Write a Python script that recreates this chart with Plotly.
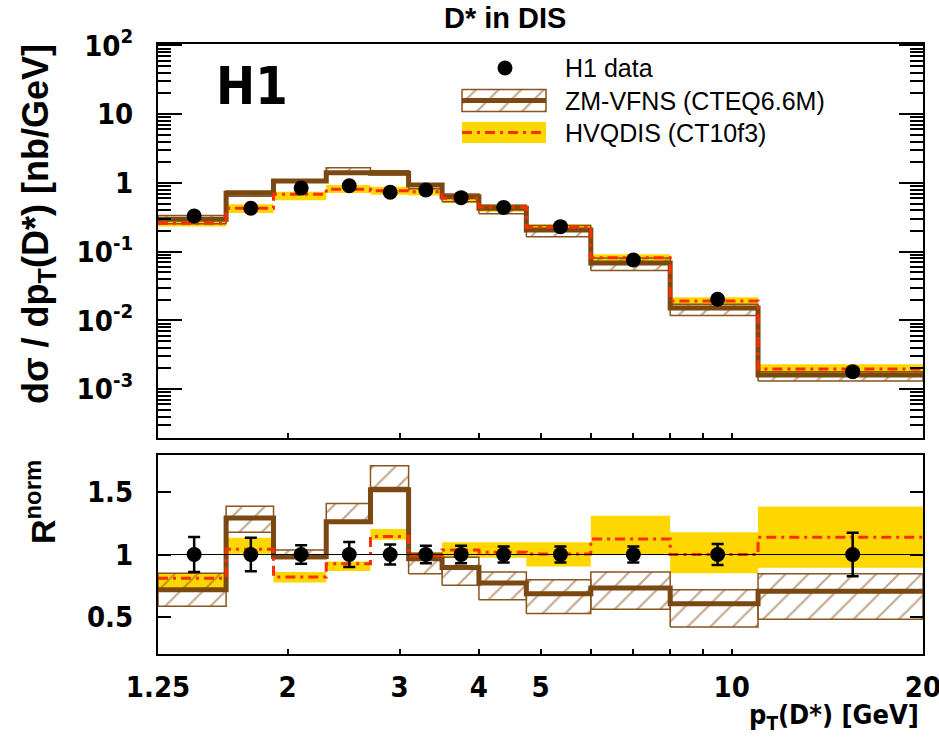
import math
import plotly.graph_objects as go

# ---------------- data ----------------
pt_edges = [1.25, 1.6, 1.9, 2.3, 2.7, 3.1, 3.5, 4.0, 4.75, 6.0, 8.0, 11.0, 20.0]

# measured cross section dsigma/dpT [nb/GeV]
data_xsec = [0.330, 0.428, 0.84, 0.91, 0.73, 0.79, 0.61, 0.44, 0.231, 0.0757, 0.0203, 0.0018]

# ZM-VFNS (CTEQ6.6M) prediction with uncertainty band
zm_xsec = [0.296, 0.706, 1.07, 1.41, 1.38, 0.93, 0.63, 0.427, 0.206, 0.0685, 0.0152, 0.00161]
zm_xsec_lo = [0.255, 0.64, 1.03, 1.38, 1.31, 0.82, 0.53, 0.355, 0.165, 0.053, 0.0118, 0.00131]
zm_xsec_hi = [0.335, 0.76, 1.11, 1.66, 1.50, 0.975, 0.69, 0.475, 0.240, 0.081, 0.0172, 0.0018]

# HVQDIS (CT10f3) prediction with uncertainty band
hv_xsec = [0.259, 0.427, 0.683, 0.807, 0.77, 0.745, 0.597, 0.442, 0.227, 0.0818, 0.0192, 0.00197]
hv_xsec_lo = [0.232, 0.365, 0.56, 0.71, 0.67, 0.655, 0.51, 0.38, 0.193, 0.072, 0.0165, 0.00172]
hv_xsec_hi = [0.289, 0.49, 0.745, 0.93, 0.88, 0.83, 0.665, 0.49, 0.25, 0.092, 0.0217, 0.00231]

# normalised ratios R^norm
r_data = [1.0] * 12
r_data_err = [0.14, 0.135, 0.075, 0.10, 0.08, 0.07, 0.07, 0.065, 0.065, 0.065, 0.085, 0.175]

r_zm = [0.717, 1.293, 0.984, 1.264, 1.52, 0.965, 0.896, 0.771, 0.685, 0.731, 0.605, 0.704]
r_zm_lo = [0.584, 1.179, 0.966, 1.26, 1.538, 0.846, 0.752, 0.637, 0.525, 0.56, 0.418, 0.48]
r_zm_hi = [0.85, 1.387, 1.037, 1.41, 1.714, 1.01, 0.978, 0.859, 0.797, 0.859, 0.717, 0.845]

r_hv = [0.81, 1.043, 0.82, 0.925, 1.144, 0.99, 1.037, 1.019, 1.005, 1.125, 1.0, 1.139]
r_hv_lo = [0.726, 1.006, 0.774, 0.867, 1.118, 0.952, 0.973, 0.973, 0.904, 1.0, 0.85, 0.894]
r_hv_hi = [0.846, 1.134, 0.86, 0.944, 1.205, 1.02, 1.098, 1.098, 1.098, 1.312, 1.178, 1.386]

x_tick_vals = [1.25, 2, 3, 4, 5, 10, 20]
x_tick_text = ["1.25", "2", "3", "4", "5", "10", "20"]
y_tick_vals = [1e-3, 1e-2, 1e-1, 1, 10, 100]
y_tick_text = ["10<sup>-3</sup>", "10<sup>-2</sup>", "10<sup>-1</sup>", "1", "10", "10<sup>2</sup>"]
r_tick_vals = [0.5, 1, 1.5]
r_tick_text = ["0.5", "1", "1.5"]

legend_labels = ["H1 data", "ZM-VFNS (CTEQ6.6M)", "HVQDIS (CT10f3)"]

# ---------------- style ----------------
W, H = 939, 748
FONT = "Liberation Sans"
NARROW = "Liberation Sans Narrow, DejaVu Sans Condensed, Liberation Sans"
BROWN = "#7a4810"
HATCH = "#87551f"
GOLD = "#ffd700"
RED = "#ff2d00"
DASHDOT = "10px,5px,3px,5px"

bin_centres = [(a + b) / 2 for a, b in zip(pt_edges[:-1], pt_edges[1:])]


def boxes(lo, hi):
    xs, ys = [], []
    for i in range(len(lo)):
        a, b = pt_edges[i], pt_edges[i + 1]
        xs += [a, b, b, a, a, None]
        ys += [lo[i], lo[i], hi[i], hi[i], lo[i], None]
    return xs, ys


def step(vals):
    return pt_edges, list(vals) + [vals[-1]]


hatch_pattern = dict(shape="/", fgcolor=HATCH, bgcolor="rgba(0,0,0,0)",
                     size=16, solidity=0.14, fillmode="overlay")

fig = go.Figure()


def add_panel(xa, ya, c_zm, zlo, zhi, c_hv, hlo, hhi):
    bx, by = boxes(hlo, hhi)
    fig.add_trace(go.Scatter(x=bx, y=by, mode="lines", fill="toself", fillcolor=GOLD,
                             line=dict(width=0), xaxis=xa, yaxis=ya, hoverinfo="skip"))
    hx, hy = boxes(zlo, zhi)
    fig.add_trace(go.Scatter(x=hx, y=hy, mode="lines", fill="toself",
                             fillcolor="rgba(0,0,0,0)", fillpattern=hatch_pattern,
                             line=dict(width=1.5, color=HATCH), xaxis=xa, yaxis=ya,
                             hoverinfo="skip"))
    sx, sy = step(c_zm)
    fig.add_trace(go.Scatter(x=sx, y=sy, mode="lines", line=dict(color=BROWN, width=5, shape="hv"),
                             xaxis=xa, yaxis=ya))
    sx, sy = step(c_hv)
    fig.add_trace(go.Scatter(x=sx, y=sy, mode="lines",
                             line=dict(color=RED, width=3, shape="hv", dash=DASHDOT),
                             xaxis=xa, yaxis=ya))


# upper panel: cross sections
add_panel("x", "y", zm_xsec, zm_xsec_lo, zm_xsec_hi, hv_xsec, hv_xsec_lo, hv_xsec_hi)
fig.add_trace(go.Scatter(x=bin_centres, y=data_xsec, mode="markers",
                         marker=dict(color="black", size=15), xaxis="x", yaxis="y"))

# lower panel: normalised ratios
add_panel("x2", "y2", r_zm, r_zm_lo, r_zm_hi, r_hv, r_hv_lo, r_hv_hi)
fig.add_trace(go.Scatter(x=bin_centres, y=r_data, mode="markers",
                         marker=dict(color="black", size=15),
                         error_y=dict(type="data", array=r_data_err, color="black",
                                      thickness=2.5, width=6),
                         xaxis="x2", yaxis="y2"))

# legend drawn in a pixel-space overlay
lx0, lx1 = 462, 546
leg_rows = [68, 100.5, 132.5]
fig.add_trace(go.Scatter(x=[505], y=[leg_rows[0]], mode="markers",
                         marker=dict(color="black", size=15), xaxis="x3", yaxis="y3"))
fig.add_trace(go.Scatter(x=[lx0, lx1, lx1, lx0, lx0],
                         y=[leg_rows[2] - 10.5] * 2 + [leg_rows[2] + 10.5] * 2 + [leg_rows[2] - 10.5],
                         mode="lines", fill="toself", fillcolor=GOLD, line=dict(width=0),
                         xaxis="x3", yaxis="y3"))
fig.add_trace(go.Scatter(x=[lx0, lx1], y=[leg_rows[2]] * 2, mode="lines",
                         line=dict(color=RED, width=3, dash=DASHDOT), xaxis="x3", yaxis="y3"))
fig.add_trace(go.Scatter(x=[lx0, lx1, lx1, lx0, lx0],
                         y=[leg_rows[1] - 11] * 2 + [leg_rows[1] + 11] * 2 + [leg_rows[1] - 11],
                         mode="lines", fill="toself", fillcolor="rgba(0,0,0,0)",
                         fillpattern=hatch_pattern,
                         line=dict(width=1.5, color=HATCH), xaxis="x3", yaxis="y3"))
fig.add_trace(go.Scatter(x=[lx0, lx1], y=[leg_rows[1]] * 2, mode="lines",
                         line=dict(color=BROWN, width=5), xaxis="x3", yaxis="y3"))


def px_x(p):
    return p / W


def px_y(p):
    return 1 - p / H


x_dom = [px_x(158), px_x(923)]
top_dom = [px_y(438), px_y(44)]
bot_dom = [px_y(654), px_y(455)]

xrange_log = [math.log10(pt_edges[0]), math.log10(pt_edges[-1])]
minor_x = [6, 7, 8, 9]
minor_y = [k * 10 ** d for d in range(-4, 3) for k in range(2, 10)]

tickfont = dict(family=NARROW, size=29, color="black", weight="bold")
axis_common = dict(showline=True, linecolor="black", linewidth=2, mirror=True,
                   showgrid=False, zeroline=False, ticks="inside", tickcolor="black",
                   tickwidth=1.5, automargin=False)

fig.update_layout(
    width=W, height=H, margin=dict(l=0, r=0, t=0, b=0, pad=0, autoexpand=False),
    paper_bgcolor="white", plot_bgcolor="rgba(0,0,0,0)", showlegend=False,
    xaxis=dict(domain=x_dom, type="log", range=xrange_log, anchor="y",
               tickvals=x_tick_vals, ticktext=x_tick_text, ticklen=5, showticklabels=False,
               minor=dict(tickmode="array", tickvals=minor_x, ticks="inside", ticklen=5,
                          tickcolor="black", tickwidth=1.5),
               **axis_common),
    yaxis=dict(domain=top_dom, type="log", range=[-3.71, 2.02], anchor="x",
               tickvals=y_tick_vals, ticktext=y_tick_text, ticklen=24, tickfont=tickfont,
               ticklabelstandoff=17,
               minor=dict(tickmode="array", tickvals=minor_y, ticks="inside", ticklen=13,
                          tickcolor="black", tickwidth=1.5),
               **{**axis_common, "mirror": "ticks"}),
    xaxis2=dict(domain=x_dom, type="log", range=xrange_log, anchor="y2",
                tickvals=x_tick_vals, ticktext=x_tick_text, ticklen=5, tickfont=tickfont,
                ticklabelstandoff=6, ticklabeloverflow="allow",
                minor=dict(tickmode="array", tickvals=minor_x, ticks="inside", ticklen=5,
                           tickcolor="black", tickwidth=1.5),
                **axis_common),
    yaxis2=dict(domain=bot_dom, range=[0.2, 1.8], anchor="x2",
                tickvals=r_tick_vals, ticktext=r_tick_text, ticklen=13, tickfont=tickfont,
                ticklabelstandoff=17,
                **{**axis_common, "mirror": "ticks"}),
    xaxis3=dict(domain=[0, 1], range=[0, W], visible=False, fixedrange=True, anchor="y3",
                automargin=False),
    yaxis3=dict(domain=[0, 1], range=[H, 0], visible=False, fixedrange=True, anchor="x3",
                automargin=False),
)

# longer decade tick at pT = 10 on both panels
for xref, dom in (("x", top_dom), ("x2", bot_dom)):
    fig.add_shape(type="line", xref=xref, yref="paper", x0=1, x1=1,
                  y0=dom[0], y1=dom[0] + 11 / H, line=dict(color="black", width=1.5))

# reference line at R = 1
fig.add_shape(type="line", xref="x2 domain", yref="y2", x0=0, x1=1, y0=1, y1=1,
              line=dict(color="black", width=1.2), layer="above")

ann = []
ann.append(dict(text="<b>D* in DIS</b>", x=px_x(505), y=px_y(18), xref="paper", yref="paper",
                xanchor="center", yanchor="middle", showarrow=False,
                font=dict(family=FONT, size=29, color="black")))
ann.append(dict(text="<b>H1</b>", x=px_x(252), y=px_y(86), xref="paper", yref="paper",
                xanchor="center", yanchor="middle", showarrow=False,
                font=dict(family=NARROW, size=52, color="black")))
ann.append(dict(text="<b>d\u03c3 / dp<sub>T</sub>(D*) [nb/GeV]</b>", x=px_x(38), y=px_y(224),
                xref="paper", yref="paper", xanchor="center", yanchor="middle",
                textangle=-90, showarrow=False,
                font=dict(family=FONT, size=36, color="black")))
ann.append(dict(text="<b>R<sup>norm</sup></b>", x=px_x(40), y=px_y(502),
                xref="paper", yref="paper", xanchor="center", yanchor="middle",
                textangle=-90, showarrow=False,
                font=dict(family=FONT, size=34, color="black")))
ann.append(dict(text="<b>p<sub>T</sub>(D*) [GeV]</b>", x=px_x(921), y=px_y(716),
                xref="paper", yref="paper", xanchor="right", yanchor="middle", showarrow=False,
                font=dict(family=NARROW, size=27, color="black")))
for label, row in zip(legend_labels, leg_rows):
    ann.append(dict(text=label, x=px_x(563), y=px_y(row), xref="paper", yref="paper",
                    xanchor="left", yanchor="middle", showarrow=False,
                    font=dict(family=FONT, size=25, color="black")))
fig.update_layout(annotations=ann)

fig.write_html("out.html")
